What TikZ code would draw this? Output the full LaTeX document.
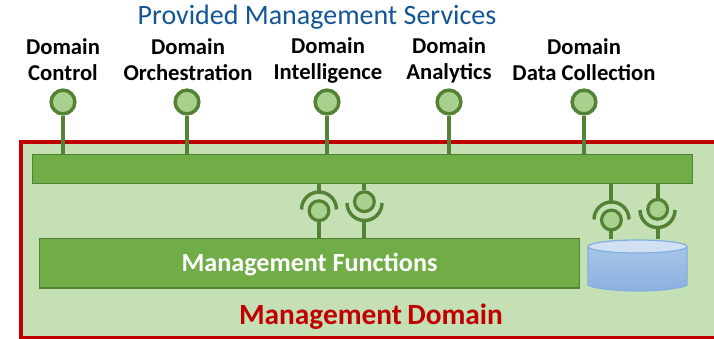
\documentclass[tikz,border=0pt]{standalone}
\usepackage{fontspec}
\setmainfont{Carlito}
\usetikzlibrary{shapes.geometric,calc}
\definecolor{dgreen}{RGB}{84,130,53}
\definecolor{mgreen}{RGB}{112,173,71}
\definecolor{lgreen}{RGB}{197,224,180}
\definecolor{cgreen}{RGB}{169,209,142}
\definecolor{redb}{RGB}{192,0,0}
\definecolor{titleb}{RGB}{20,85,150}
\definecolor{cyltop}{RGB}{167,197,232}
\definecolor{cylbot}{RGB}{139,177,225}
\definecolor{cylline}{RGB}{127,176,224}
\definecolor{cyllid}{RGB}{210,224,243}
\tikzset{
  px/.style={x=0.75pt,y=-0.75pt},
  bar/.style={draw=dgreen,line width=1.1pt,fill=mgreen,inner sep=0pt,anchor=north west},
  port/.style={circle,draw=dgreen,line width=2.6pt,fill=cgreen,inner sep=0pt,minimum size=17.8pt},
  sport/.style={circle,draw=dgreen,line width=2.4pt,fill=cgreen,inner sep=0pt,minimum size=14.8pt},
  stem/.style={draw=dgreen,line width=3pt},
  cup/.style={draw=dgreen,line width=2.6pt},
  lbl/.style={font=\fontsize{17pt}{19.5pt}\selectfont\bfseries,align=center,text=black,inner sep=0pt},
}
\begin{document}
\begin{tikzpicture}[px]
\useasboundingbox (0,0) rectangle (714,339);
\fill[white] (0,0) rectangle (714,339);
% domain
\fill[lgreen] (21,142) rectangle (714,337);
\draw[redb,line width=2.6pt] (716,142) -- (21,142) -- (21,337.5) -- (716,337.5);
% title and labels
\node[font=\fontsize{21pt}{24pt}\selectfont,text=titleb,inner sep=0pt] (title) at (317,17) {Provided Management Services};
\node[lbl] (t1) at (63,60) {Domain\\Control};
\node[lbl] (t2) at (188,60) {Domain\\Orchestration};
\node[lbl] (t3) at (328,60) {Domain\\Intelligence};
\node[lbl] (t4) at (449,60) {Domain\\Analytics};
\node[lbl] (t5) at (584,60) {Domain\\Data Collection};
% bars
\node[bar,minimum width=495pt,minimum height=21.4pt] (top) at (31.5,154) {};
\node[bar,minimum width=405pt,minimum height=36.9pt] (mf) at (38.5,238) {};
\node[text=white,font=\fontsize{19.6pt}{22pt}\selectfont\bfseries,inner sep=0pt] (mft) at (309.5,265) {Management Functions};
% cylinder
\shade[top color=cyltop,bottom color=cylbot] (588,246.5) -- (588,285) .. controls (592,288) and (615,291) .. (637.5,291) .. controls (660,291) and (683,288) .. (687,285) -- (687,246.5) -- cycle;
\draw[draw=cylline,line width=0.9pt] (588,246.5) -- (588,285) .. controls (592,288) and (615,291) .. (637.5,291) .. controls (660,291) and (683,288) .. (687,285) -- (687,246.5);
\node[ellipse,draw=cylline,line width=0.9pt,fill=cyllid,inner sep=0pt,minimum width=74.25pt,minimum height=9.75pt] (dbtop) at (637.5,246.5) {};
% exposed ports
\foreach \n/\x in {p1/63,p2/187,p3/327,p4/449,p5/584}{
  \node[port] (\n) at (\x,102) {};
  \draw[stem] (\n) -- (\n |- top.north);
}
% internal sockets
\node[sport] (s1) at (319,210.7) {};
\node[sport] (s2) at (364.4,201.7) {};
\node[sport] (s3) at (611.4,220) {};
\node[sport] (s4) at (657.7,209.3) {};
\draw[cup] (301.5,209.5) arc[start angle=180,end angle=360,radius=17.5];
\draw[cup] (347,203) arc[start angle=180,end angle=0,radius=17.5];
\draw[cup] (594,219.5) arc[start angle=180,end angle=360,radius=17.5];
\draw[cup] (640,210) arc[start angle=180,end angle=0,radius=17.5];
\coordinate (a1) at (319,193);
\coordinate (a2) at (364.4,220);
\coordinate (a3) at (611.4,203);
\coordinate (a4) at (657.7,227);
\draw[stem] (top.south -| a1) -- (a1);
\draw[stem] (s1) -- (s1 |- mf.north);
\draw[stem] (top.south -| s2) -- (s2);
\draw[stem] (a2) -- (a2 |- mf.north);
\draw[stem] (top.south -| a3) -- (a3);
\draw[stem] (s3) -- (s3 |- dbtop.north);
\draw[stem] (top.south -| s4) -- (s4);
\draw[stem] (a4) -- (a4 |- dbtop.north);
\node[font=\fontsize{22pt}{24pt}\selectfont\bfseries,text=redb,inner sep=0pt] (md) at (371,317) {Management\hspace{-1pt} Domain};
\end{tikzpicture}
\end{document}
